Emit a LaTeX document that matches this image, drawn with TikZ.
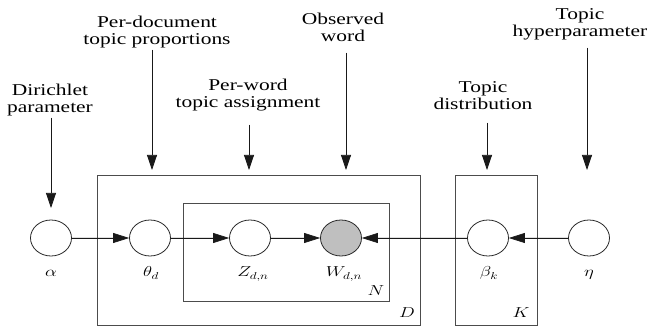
\documentclass[tikz,border=0pt]{standalone}
\usepackage{fontspec}
\usepackage{graphicx}
\setmainfont[FakeStretch=1.3]{Liberation Serif}
\usetikzlibrary{arrows.meta,shapes.geometric}
\newcommand{\stretchx}[1]{\scalebox{1.3}[1]{#1}}
\tikzset{
  var/.style={ellipse, draw=black!85, line width=0.8pt, minimum width=41pt, minimum height=36pt, inner sep=0pt},
  obs/.style={var, fill=black!25},
  plate/.style={draw=black!70, line width=0.8pt},
  edge/.style={-{Triangle[length=16pt,width=10pt]}, line width=0.7pt, draw=black!90, fill=black},
  pointer/.style={-{Triangle[length=15pt,width=10pt]}, line width=0.7pt, draw=black!90, fill=black},
  caption/.style={inner sep=0pt, anchor=base, font=\fontsize{16.5}{17}\selectfont},
  mlabel/.style={inner sep=0pt, anchor=base, font=\fontsize{14}{16}\selectfont},
}
\begin{document}
\begin{tikzpicture}[x=1pt,y=-1pt]
\useasboundingbox (0,0) rectangle (649,326);
% plates
\draw[plate] (97,175) rectangle (420,325);
\draw[plate] (183,203) rectangle (389,301);
\draw[plate] (455,175) rectangle (537,325);
\node[mlabel] (lN) at (376,296) {\stretchx{$N$}};
\node[mlabel] (lD) at (407,317) {\stretchx{$D$}};
\node[mlabel] (lK) at (521,317) {\stretchx{$K$}};
% variables
\node[var] (a)  at (51,238) {};
\node[var] (th) at (150,238) {};
\node[var] (z)  at (250,238) {};
\node[obs] (w)  at (341,238) {};
\node[var] (b)  at (488,238) {};
\node[var] (e)  at (589,238) {};
% variable labels
\node[mlabel] (la)  at (51,277)  {\stretchx{$\alpha$}};
\node[mlabel] (lth) at (151,277) {\stretchx{$\theta_d$}};
\node[mlabel] (lz)  at (253,277) {\stretchx{$Z_{d,n}$}};
\node[mlabel] (lw)  at (344,277) {\stretchx{$W_{d,n}$}};
\node[mlabel] (lb)  at (489,277) {\stretchx{$\beta_k$}};
\node[mlabel] (le)  at (589,277) {\stretchx{$\eta$}};
% edges
\draw[edge] (a) -- (th);
\draw[edge] (th) -- (z);
\draw[edge] (z) -- (w);
\draw[edge] (e) -- (b);
\draw[edge] (b) -- (w);
% captions
\node[caption] (c1) at (50,113) {\begin{tabular}[b]{@{}c@{}}Dirichlet\\parameter\end{tabular}};
\node[caption] (c2) at (157,45) {\begin{tabular}[b]{@{}c@{}}Per-document\\topic proportions\end{tabular}};
\node[caption] (c3) at (248,108) {\begin{tabular}[b]{@{}c@{}}Per-word\\topic assignment\end{tabular}};
\node[caption] (c4) at (343,42) {\begin{tabular}[b]{@{}c@{}}Observed\\word\end{tabular}};
\node[caption] (c5) at (483,110) {\begin{tabular}[b]{@{}c@{}}Topic\\distribution\end{tabular}};
\node[caption] (c6) at (580,37) {\begin{tabular}[b]{@{}c@{}}Topic\\hyperparameter\end{tabular}};
% pointers
\coordinate (s1) at (51,118);  \coordinate (t1) at (51,208);
\coordinate (s2) at (152,50);  \coordinate (t2) at (152,170);
\coordinate (s3) at (249,125); \coordinate (t3) at (249,170);
\coordinate (s4) at (346,53);  \coordinate (t4) at (346,170);
\coordinate (s5) at (487,123); \coordinate (t5) at (487,170);
\coordinate (s6) at (587,48);  \coordinate (t6) at (587,170);
\draw[pointer] (s1) -- (t1);
\draw[pointer] (s2) -- (t2);
\draw[pointer] (s3) -- (t3);
\draw[pointer] (s4) -- (t4);
\draw[pointer] (s5) -- (t5);
\draw[pointer] (s6) -- (t6);
\end{tikzpicture}
\end{document}
